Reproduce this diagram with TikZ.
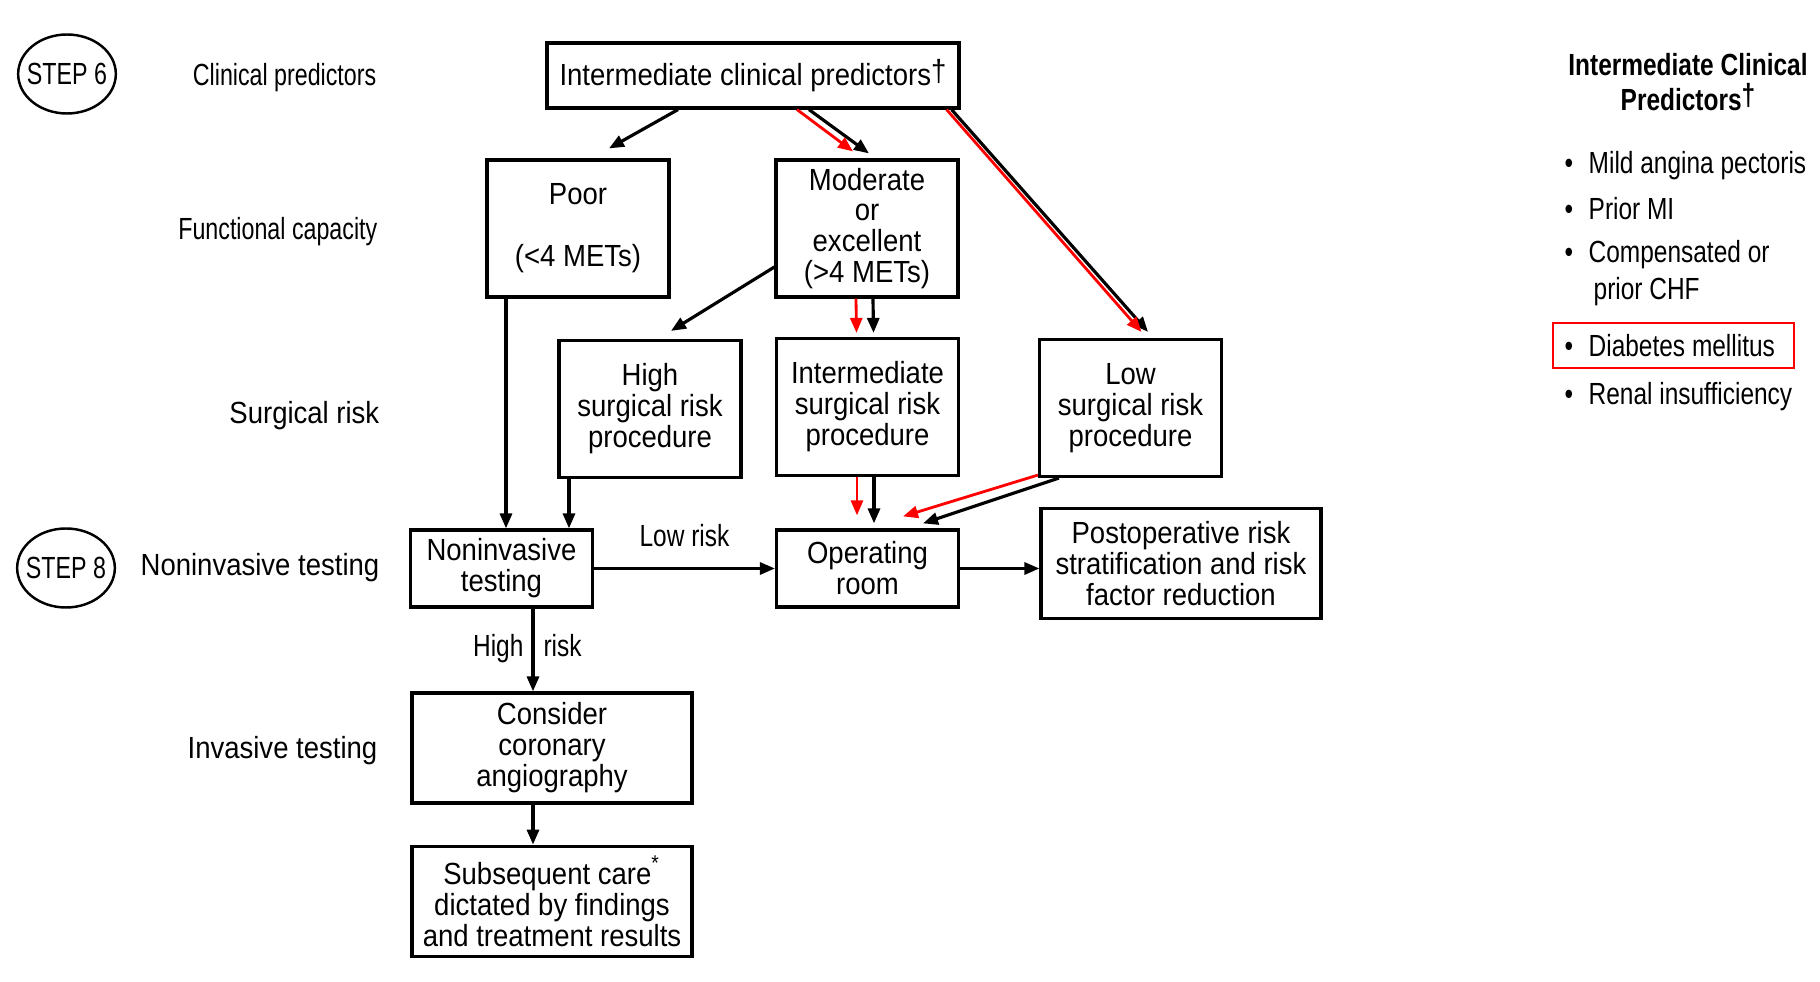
\documentclass[tikz,border=0pt]{standalone}
\usepackage{fontspec}
\setmainfont{Liberation Sans}[FakeStretch=0.9]
\newfontfamily\narrowfont{Liberation Sans}[FakeStretch=0.8]
\newfontfamily\condfont{Liberation Sans}[FakeStretch=0.76]
\usetikzlibrary{arrows.meta, positioning, shapes.geometric, calc}
\newcommand{\boxsize}{\fontsize{8.7}{8.8}\selectfont}

\begin{document}
\begin{tikzpicture}[
    box/.style={rectangle, draw, line width=0.9pt, minimum width=1.82cm, minimum height=#1, inner sep=1pt, align=center, font=\boxsize},
    box/.default={1.37cm},
    wide/.style={box=#1, minimum width=2.8cm},
    wide/.default={1.1cm},
    rowlabel/.style={anchor=east, inner sep=0pt, font=\boxsize},
    narrowlabel/.style={rowlabel, font=\boxsize\condfont},
    stepmark/.style={ellipse, draw, line width=0.7pt, minimum height=0.79cm, inner xsep=-0.055cm, inner ysep=0.1cm, font=\boxsize\condfont},
    edgelabel/.style={inner sep=0pt, font=\boxsize\narrowfont},
    item/.style={anchor=base west, inner sep=0pt, font=\boxsize\narrowfont},
    arr/.style={line width=0.9pt, -{Triangle[length=0.15cm, width=0.12cm]}},
    redarr/.style={arr, red, line width=0.8pt},
]
    \useasboundingbox (0,0) rectangle (18.2,-9.82);

    % Step markers and row labels
    \node[stepmark] (s6) at (0.67,-0.74) {STEP 6};
    \node[stepmark] (s8) at (0.66,-5.68) {STEP 8};
    \node[narrowlabel] (rclin) at (3.77,-0.78) {Clinical predictors};
    \node[narrowlabel] (rfunc) at (3.78,-2.32) {Functional capacity};
    \node[rowlabel] (rsurg) at (3.80,-4.16) {Surgical risk};
    \node[rowlabel] (rnonin) at (3.80,-5.68) {Noninvasive testing};
    \node[rowlabel] (rinv) at (3.78,-7.51) {Invasive testing};

    % Flow boxes
    \node[box=0.65cm, minimum width=4.12cm] (top) at (7.53,-0.755) {Intermediate clinical predictors\raisebox{0.15em}{†}};
    \node[box] (poor) at (5.78,-2.285) {Poor\\[8.8pt](<4 METs)};
    \node[box] (mod) at (8.67,-2.285) {Moderate\\or\\excellent\\(>4 METs)};
    \node[box] (high) at (6.50,-4.09) {High\\surgical risk\\procedure};
    \node[box] (inter) at (8.675,-4.07) {Intermediate\\surgical risk\\procedure};
    \node[box] (low) at (11.305,-4.08) {Low\\surgical risk\\procedure};
    \node[box=0.77cm] (nonin) at (5.015,-5.685) {Noninvasive\\testing};
    \node[box=0.77cm] (oproom) at (8.675,-5.685) {Operating\\room};
    \node[wide] (postop) at (11.81,-5.635) {Postoperative risk\\stratification and risk\\factor reduction};
    \node[wide] (angio) at (5.52,-7.48) {Consider\\coronary\\angiography};
    \node[wide, below=0.4cm of angio] (care) {Subsequent care\textsuperscript{*}\\dictated by findings\\and treatment results};

    % From clinical predictors
    \draw[arr] ([xshift=-0.75cm]top.south) -- ([xshift=0.31cm, yshift=0.1cm]poor.north);
    \draw[arr] ([xshift=0.56cm]top.south) -- ([xshift=0.02cm, yshift=0.05cm]mod.north);
    \draw[redarr] ([xshift=0.44cm]top.south) -- ([xshift=-0.14cm, yshift=0.07cm]mod.north);
    \draw[arr] ([xshift=-0.09cm]top.south east) -- ([xshift=0.175cm, yshift=0.06cm]low.north);
    \draw[redarr] ([xshift=-0.14cm]top.south east) -- ([xshift=0.11cm, yshift=0.06cm]low.north);

    % Functional capacity to surgical risk / testing
    \draw[arr] ([yshift=-0.385cm]mod.west) -- ([xshift=0.21cm, yshift=0.08cm]high.north);
    \draw[arr] ([xshift=0.06cm]mod.south) -- ([xshift=0.06cm, yshift=0.04cm]inter.north);
    \draw[redarr] ([xshift=-0.11cm]mod.south) -- ([xshift=-0.11cm, yshift=0.04cm]inter.north);
    \draw[arr] ([xshift=-0.72cm]poor.south) -- ([xshift=-0.72cm]poor.south |- nonin.north);
    \draw[arr] ([xshift=-0.81cm]high.south) -- ([xshift=-0.81cm]high.south |- nonin.north);

    % Surgical risk to operating room
    \draw[arr] ([xshift=0.065cm]inter.south) -- ([xshift=0.065cm, yshift=0.05cm]inter.south |- oproom.north);
    \draw[redarr] ([xshift=-0.105cm]inter.south) -- ([xshift=-0.105cm, yshift=0.13cm]inter.south |- oproom.north);
    \draw[arr] ([xshift=0.21cm]low.south west) -- ([xshift=0.555cm, yshift=0.05cm]oproom.north);
    \draw[redarr] ([yshift=0.03cm]low.south west) -- ([xshift=0.355cm, yshift=0.12cm]oproom.north);

    % Testing row
    \draw[arr] (nonin) -- node[edgelabel, above=0.2cm] {Low risk} (oproom);
    \draw[arr] (oproom) -- (oproom -| postop.west);
    \draw[arr] ([xshift=0.315cm]nonin.south) --
        node[edgelabel, anchor=base east, xshift=-0.08cm, yshift=-0.07cm] {High}
        node[edgelabel, anchor=base west, xshift=0.09cm, yshift=-0.07cm] {risk}
        ([xshift=0.315cm]nonin.south |- angio.north);
    \draw[arr] ([xshift=-0.19cm]angio.south) -- ([xshift=-0.19cm]angio.south |- care.north);

    % Side panel
    \node[align=center, font=\fontsize{8.7}{9.9}\selectfont\narrowfont\bfseries] (phead) at (16.88,-0.82) {Intermediate Clinical\\Predictors\raisebox{0.15em}{†}};
    \node[item] (p1) at (15.64,-1.74) {\makebox[0.24cm][l]{\textbullet}Mild angina pectoris};
    \node[item] (p2) at (15.64,-2.20) {\makebox[0.24cm][l]{\textbullet}Prior MI};
    \node[item] (p3) at (15.64,-2.63) {\makebox[0.24cm][l]{\textbullet}Compensated or};
    \node[item] (p3b) at (15.93,-3.00) {prior CHF};
    \node[item] (p4) at (15.64,-3.57) {\makebox[0.24cm][l]{\textbullet}Diabetes mellitus};
    \node[item] (p5) at (15.64,-4.05) {\makebox[0.24cm][l]{\textbullet}Renal insufficiency};
    \draw[red, line width=0.6pt] (15.53,-3.23) rectangle (17.94,-3.68);
\end{tikzpicture}
\end{document}
